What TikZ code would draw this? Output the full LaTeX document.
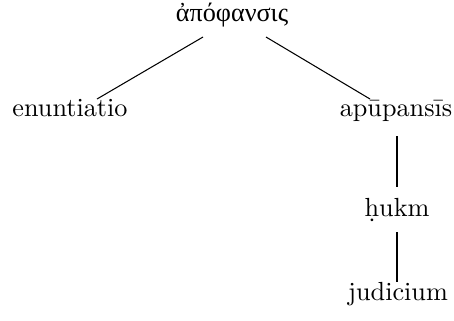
\documentclass[tikz,border=0pt]{standalone}
\usepackage{fontspec}
\newfontfamily\greekfont{Liberation Serif}
\newcommand\pxu{0.3817pt}
\begin{document}
\begin{tikzpicture}[
    x=\pxu, y=-\pxu,
    word/.style={anchor=base,inner sep=0pt},
    branch/.style={draw=black,line width=0.4pt}
]
    \useasboundingbox (0,0) rectangle (454,320);
    % Words
    \node[word] (apo) at (232,21) {\greekfont ἀπόφανσις};
    \node[word] (enun) at (70,116) {enuntiatio};
    \node[word] (apu) at (396,116) {apūpansīs};
    \node[word] (hukm) at (397,216) {ḥukm};
    \node[word] (jud) at (398,300) {judicium};

    % Branches
    \draw[branch] ([xshift=-29*\pxu,yshift=-16*\pxu]apo.base) -- ([xshift=27*\pxu,yshift=17*\pxu]enun.base);
    \draw[branch] ([xshift=34*\pxu,yshift=-16*\pxu]apo.base) -- ([xshift=-26*\pxu,yshift=17*\pxu]apu.base);
    \draw[branch] ([xshift=1*\pxu,yshift=-20*\pxu]apu.base) -- ([yshift=29*\pxu]hukm.base);
    \draw[branch] ([yshift=-16*\pxu]hukm.base) -- ([xshift=-1*\pxu,yshift=18*\pxu]jud.base);
\end{tikzpicture}
\end{document}
